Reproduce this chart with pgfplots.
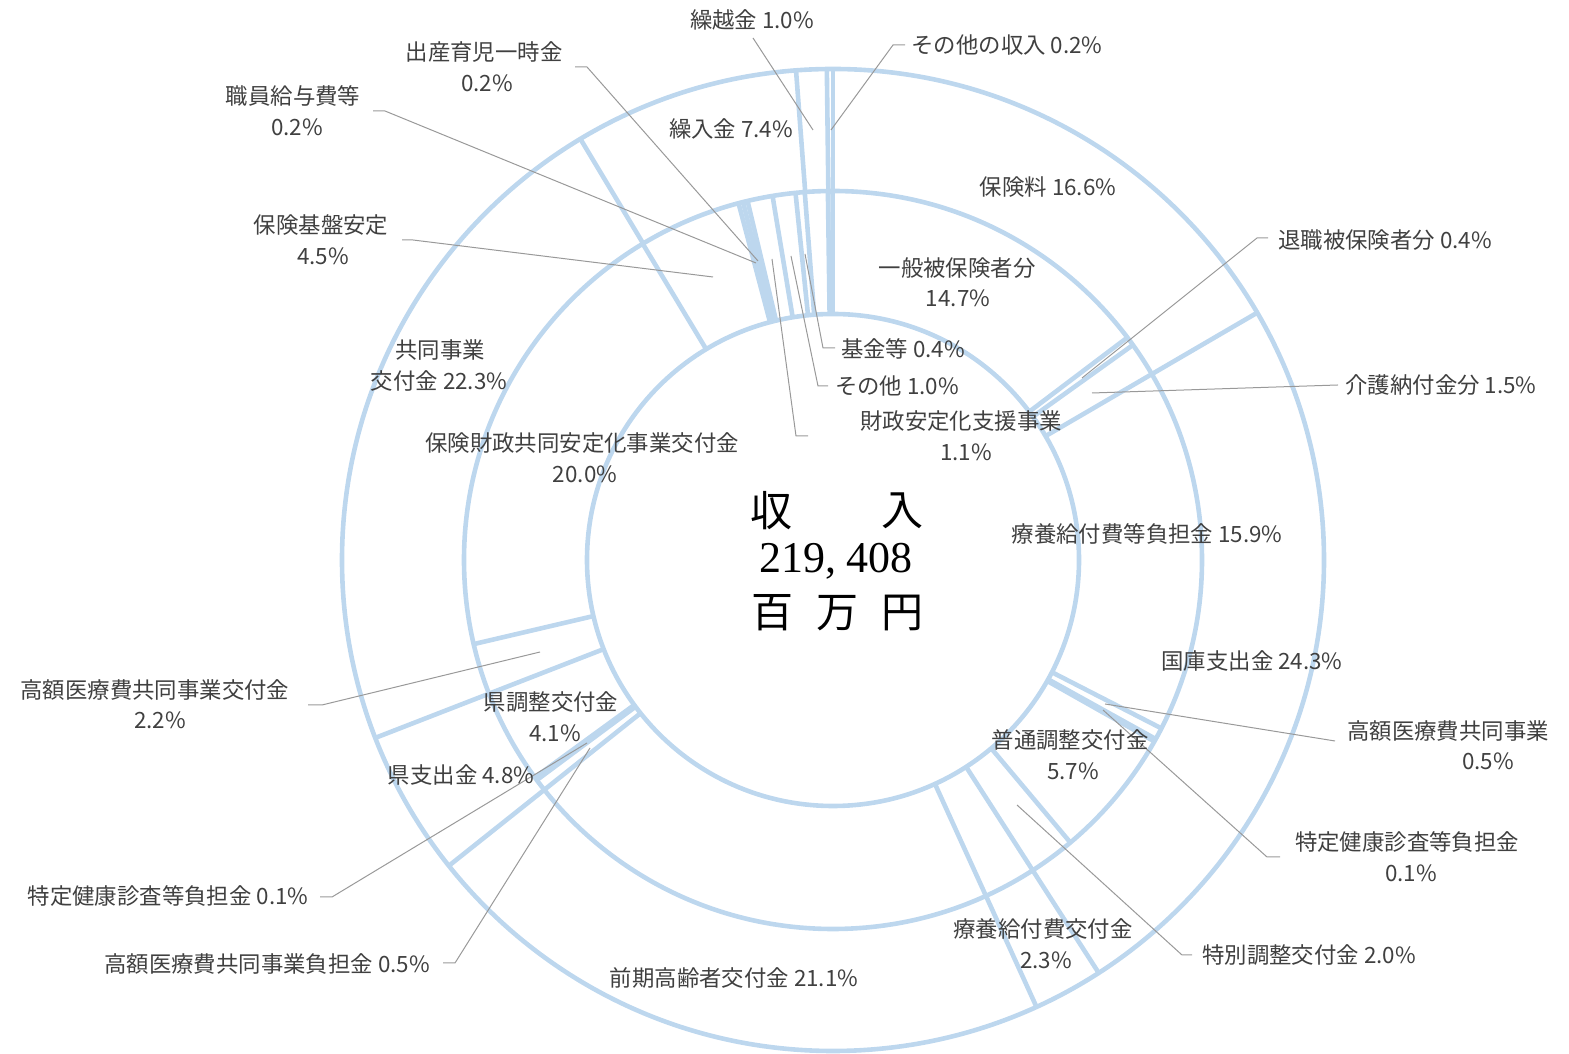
\documentclass[border=0pt]{standalone}
\usepackage{fontspec}
\usepackage{pgfplots}
\pgfplotsset{compat=1.18}
\usepackage{pgfplotstable}
\newfontfamily\jp{Noto Sans CJK JP}
\newfontfamily\serifnum{Liberation Serif}
\definecolor{ring}{HTML}{BDD7EE}
\definecolor{lead}{HTML}{999999}
\definecolor{txt}{HTML}{404040}

% outer ring (clockwise from 12 o'clock), percent
\pgfplotstableread{
v
16.6
24.3
2.3
21.1
4.8
22.3
7.4
1.0
0.2
}\outerdata
% inner ring (clockwise from 12 o'clock), percent
\pgfplotstableread{
v
14.7
0.4
1.5
15.94
0.52
0.12
5.70
2.02
2.3
21.1
0.53
0.14
4.13
2.24
20.04
4.5
0.2
0.2
1.1
1.0
0.4
1.0
0.2
}\innerdata
\pgfplotstablecreatecol[create col/expr accum={\pgfmathaccuma+\thisrow{v}}{0}]{c}\outerdata
\pgfplotstablecreatecol[create col/expr accum={\pgfmathaccuma+\thisrow{v}}{0}]{c}\innerdata

\newcommand{\lab}[3]{\node[inner sep=0pt, text=txt, font=\jp\fontsize{11.2}{13}\selectfont] at (axis cs:#1,-#2) {#3};}

\begin{document}
\begin{tikzpicture}
\useasboundingbox (0,0) rectangle (784.5pt,527pt);
\begin{axis}[scale only axis, width=784.5pt, height=527pt,
  xmin=0, xmax=1569, ymin=-1054, ymax=0, hide axis, clip=false]
% radial boundaries, inner ring
\addplot[ring, line width=2.3pt, mark=none,
  quiver={u={123*cos(90-3.6*\thisrow{c})}, v={123*sin(90-3.6*\thisrow{c})}}]
  table[x expr={833+246*cos(90-3.6*\thisrow{c})}, y expr={-560+246*sin(90-3.6*\thisrow{c})}] \innerdata;
% radial boundaries, outer ring
\addplot[ring, line width=2.3pt, mark=none,
  quiver={u={122*cos(90-3.6*\thisrow{c})}, v={122*sin(90-3.6*\thisrow{c})}}]
  table[x expr={833+369*cos(90-3.6*\thisrow{c})}, y expr={-560+369*sin(90-3.6*\thisrow{c})}] \outerdata;
\draw[ring, line width=2.3pt] (axis cs:833,-560) circle[radius=246];
\draw[ring, line width=2.3pt] (axis cs:833,-560) circle[radius=369];
\draw[ring, line width=2.3pt] (axis cs:833,-560) circle[radius=491];

% leader lines
\begin{scope}[lead, line width=0.5pt]
\draw (axis cs:753,-38) -- (axis cs:813,-130);
\draw (axis cs:905,-45) -- (axis cs:893,-45) -- (axis cs:831,-130);
\draw (axis cs:575,-67) -- (axis cs:587,-67) -- (axis cs:758,-261);
\draw (axis cs:373,-111) -- (axis cs:385,-111) -- (axis cs:756,-263);
\draw (axis cs:402,-240) -- (axis cs:413,-240) -- (axis cs:713,-277);
\draw (axis cs:1268,-238) -- (axis cs:1257,-238) -- (axis cs:1082,-378);
\draw (axis cs:835,-348) -- (axis cs:823,-348) -- (axis cs:805,-254);
\draw (axis cs:828,-386) -- (axis cs:818,-386) -- (axis cs:791,-256);
\draw (axis cs:808,-436) -- (axis cs:796,-436) -- (axis cs:772,-259);
\draw (axis cs:1338,-385) -- (axis cs:1092,-393);
\draw (axis cs:1335,-741) -- (axis cs:1105,-704);
\draw (axis cs:1280,-857) -- (axis cs:1267,-857) -- (axis cs:1103,-710);
\draw (axis cs:1192,-955) -- (axis cs:1182,-955) -- (axis cs:1017,-805);
\draw (axis cs:308,-705) -- (axis cs:322,-705) -- (axis cs:540,-652);
\draw (axis cs:320,-897) -- (axis cs:332,-897) -- (axis cs:587,-743);
\draw (axis cs:443,-963) -- (axis cs:455,-963) -- (axis cs:590,-748);
\end{scope}

% labels
\lab{752}{20}{繰越金 1.0\%}
\lab{1007}{45}{その他の収入 0.2\%}
\lab{484}{52}{出産育児一時金}
\lab{487}{83}{0.2\%}
\lab{293}{96}{職員給与費等}
\lab{297}{127}{0.2\%}
\lab{731}{129}{繰入金 7.4\%}
\lab{1048}{187}{保険料 16.6\%}
\lab{321}{225}{保険基盤安定}
\lab{323}{256}{4.5\%}
\lab{1385}{240}{退職被保険者分 0.4\%}
\lab{957}{268}{一般被保険者分}
\lab{958}{298}{14.7\%}
\lab{903}{349}{基金等 0.4\%}
\lab{440}{350}{共同事業}
\lab{439}{381}{交付金 22.3\%}
\lab{897}{386}{その他 1.0\%}
\lab{1441}{385}{介護納付金分 1.5\%}
\lab{961}{421}{財政安定化支援事業}
\lab{966}{452}{1.1\%}
\lab{582}{443}{保険財政共同安定化事業交付金}
\lab{585}{474}{20.0\%}
\lab{1147}{534}{療養給付費等負担金 15.9\%}
\lab{1252}{661}{国庫支出金 24.3\%}
\lab{155}{690}{高額医療費共同事業交付金}
\lab{160}{720}{2.2\%}
\lab{551}{702}{県調整交付金}
\lab{555}{733}{4.1\%}
\lab{1448}{731}{高額医療費共同事業}
\lab{1488}{761}{0.5\%}
\lab{1070}{740}{普通調整交付金}
\lab{1073}{771}{5.7\%}
\lab{461}{775}{県支出金 4.8\%}
\lab{1407}{842}{特定健康診査等負担金}
\lab{1411}{873}{0.1\%}
\lab{168}{896}{特定健康診査等負担金 0.1\%}
\lab{1043}{929}{療養給付費交付金}
\lab{1046}{960}{2.3\%}
\lab{1309}{955}{特別調整交付金 2.0\%}
\lab{267}{964}{高額医療費共同事業負担金 0.5\%}
\lab{734}{978}{前期高齢者交付金 21.1\%}

% centre
\node[inner sep=0pt, font=\jp\fontsize{21}{21}\selectfont] at (axis cs:771,-511) {収};
\node[inner sep=0pt, font=\jp\fontsize{21}{21}\selectfont] at (axis cs:902,-511) {入};
\node[inner sep=0pt, font=\serifnum\fontsize{22}{22}\selectfont] at (axis cs:836,-561) {219, 408};
\node[inner sep=0pt, font=\jp\fontsize{21}{21}\selectfont] at (axis cs:772,-613) {百};
\node[inner sep=0pt, font=\jp\fontsize{21}{21}\selectfont] at (axis cs:837,-613) {万};
\node[inner sep=0pt, font=\jp\fontsize{21}{21}\selectfont] at (axis cs:902,-613) {円};
\end{axis}
\end{tikzpicture}
\end{document}
